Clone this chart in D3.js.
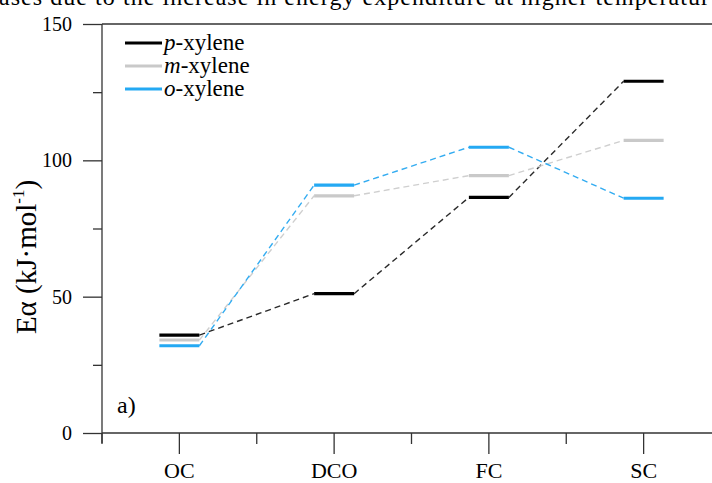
<!DOCTYPE html>
<html>
<head>
<meta charset="utf-8">
<script src="https://cdn.jsdelivr.net/npm/d3@7"></script>
<style>
  html, body { margin: 0; padding: 0; background: #fff; overflow: hidden; }
  svg, svg text { font-family: 'Liberation Serif', Tinos, 'Times New Roman', Times, serif; }
  svg { display: block; }
</style>
</head>
<body>
<svg id="chart" width="712" height="483"></svg>
<script>
const categories = ["OC", "DCO", "FC", "SC"];
const pXylene = [35.9, 51.1, 86.4, 129.0];
const mXylene = [34.1, 87.0, 94.4, 107.3];
const oXylene = [32.0, 90.9, 104.8, 86.1];
const yMajorTicks = [0, 50, 100, 150];
const yMinorTicks = [25, 75, 125];
const seriesNames = ["p", "m", "o"];
const topText = "ases due to the increase in energy expenditure at higher temperatur";

(function () {
const series = [
  { key: seriesNames[0], values: pXylene, color: "#000000", dash: "#2a2a2a" },
  { key: seriesNames[1], values: mXylene, color: "#c9c9c9", dash: "#cfcfcf" },
  { key: seriesNames[2], values: oXylene, color: "#24a9f3", dash: "#33acf1" }
];

const svg = d3.select("#chart");
const mLeft = 102, mTop = 24, mBottom = 433, mRight = 721;

const x = d3.scaleBand().domain(categories).range([mLeft, mRight]).padding(0);
const y = d3.scaleLinear().domain([0, 150]).range([mBottom, mTop]);

// clipped caption text at top (cut off in the reference as well)
svg.append("text")
  .attr("x", -1).attr("y", 5)
  .attr("font-size", 24)
  .attr("textLength", 710)
  .attr("fill", "#000")
  .text(topText);

const axisColor = "#333";

// top frame line
svg.append("line")
  .attr("x1", mLeft).attr("x2", 712)
  .attr("y1", y(150)).attr("y2", y(150))
  .attr("stroke", axisColor).attr("stroke-width", 1.3);

// y axis
const yAxis = d3.axisLeft(y).tickValues(yMajorTicks).tickSize(19).tickPadding(11).tickFormat(d3.format("d"));
const gy = svg.append("g").attr("transform", `translate(${mLeft},0)`).call(yAxis);
gy.attr("font-family", null);
gy.select(".domain").attr("stroke", axisColor).attr("stroke-width", 1.3)
  .attr("d", `M0,${mBottom + 10}V${mTop}`);
gy.selectAll(".tick line").attr("stroke", axisColor).attr("stroke-width", 1.3);
gy.selectAll(".tick text").attr("font-size", 20).attr("fill", "#000");
const yMinor = d3.axisLeft(y).tickValues(yMinorTicks).tickSize(9).tickFormat("");
const gym = svg.append("g").attr("transform", `translate(${mLeft},0)`).call(yMinor);
gym.select(".domain").remove();
gym.selectAll(".tick line").attr("stroke", axisColor).attr("stroke-width", 1.3);

// x axis
const xAxis = d3.axisBottom(x).tickSize(21).tickPadding(8);
const gx = svg.append("g").attr("transform", `translate(0,${mBottom})`).call(xAxis);
gx.attr("font-family", null);
gx.select(".domain").attr("stroke", axisColor).attr("stroke-width", 1.3)
  .attr("d", `M${mLeft},0H712`);
gx.selectAll(".tick line").attr("stroke", axisColor).attr("stroke-width", 1.3);
gx.selectAll(".tick text").attr("font-size", 22).attr("fill", "#000");
// minor x ticks at band boundaries
const bounds = categories.map(c => x(c));
svg.append("g").selectAll("line").data(bounds).join("line")
  .attr("x1", d => d).attr("x2", d => d)
  .attr("y1", mBottom).attr("y2", mBottom + 11)
  .attr("stroke", axisColor).attr("stroke-width", 1.3);

// y label
const yl = svg.append("text")
  .attr("transform", `translate(36,257) rotate(-90)`)
  .attr("text-anchor", "middle")
  .attr("font-size", 29)
  .attr("fill", "#000");
yl.append("tspan").text("Eα (kJ·mol");
yl.append("tspan").attr("font-size", 17).attr("dy", -12).text("-1");
yl.append("tspan").attr("dy", 12).text(")");

// series
const half = 20;
const cx = c => x(c) + x.bandwidth() / 2;
series.forEach(s => {
  const pts = categories.map((c, i) => ({ c, v: s.values[i] }));
  const conns = d3.pairs(pts);
  svg.append("g").selectAll("line").data(conns).join("line")
    .attr("x1", d => cx(d[0].c) + half).attr("y1", d => y(d[0].v))
    .attr("x2", d => cx(d[1].c) - half).attr("y2", d => y(d[1].v))
    .attr("stroke", s.dash).attr("stroke-width", 1.4)
    .attr("stroke-dasharray", "6,4");
});
series.forEach(s => {
  const pts = categories.map((c, i) => ({ c, v: s.values[i] }));
  svg.append("g").selectAll("line").data(pts).join("line")
    .attr("x1", d => cx(d.c) - half).attr("x2", d => cx(d.c) + half)
    .attr("y1", d => y(d.v)).attr("y2", d => y(d.v))
    .attr("stroke", s.color).attr("stroke-width", 3.2);
});

// legend
const lg = svg.append("g");
series.forEach((s, i) => {
  const ly = 43 + i * 23;
  lg.append("line").attr("x1", 125).attr("x2", 162).attr("y1", ly).attr("y2", ly)
    .attr("stroke", s.color).attr("stroke-width", 3.2);
  const t = lg.append("text").attr("x", 164).attr("y", ly + 7).attr("font-size", 23).attr("fill", "#000");
  t.append("tspan").attr("font-style", "italic").text(s.key);
  t.append("tspan").text("-xylene");
});

// panel label
svg.append("text").attr("x", 117).attr("y", 413).attr("font-size", 24).attr("fill", "#000").text("a)");
})();
</script>
</body>
</html>
